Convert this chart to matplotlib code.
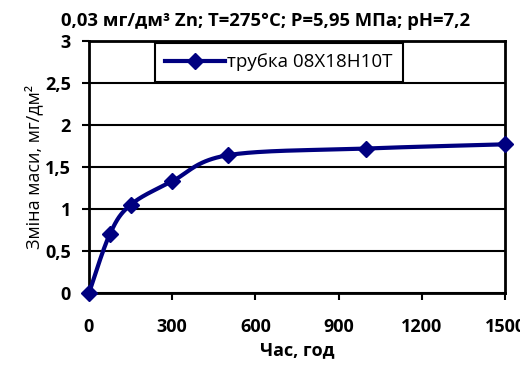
import numpy as np
import matplotlib
matplotlib.use("Agg")
import matplotlib.pyplot as plt

# ------------------------------------------------------------
# DATA
# ------------------------------------------------------------
hours = [0, 75, 150, 300, 500, 1000, 1500]
mass_change = [0.0, 0.70, 1.05, 1.33, 1.64, 1.72, 1.77]
series_label = "трубка 08Х18Н10Т"

x_ticks = [0, 300, 600, 900, 1200, 1500]
y_ticks = [0, 0.5, 1, 1.5, 2, 2.5, 3]
y_tick_labels = ["0", "0,5", "1", "1,5", "2", "2,5", "3"]

title = "0,03 мг/дм³ Zn; T=275°C; P=5,95 МПа; pH=7,2"
x_label = "Час, год"
y_label = "Зміна маси, мг/дм²"

plt.rcParams['font.family'] = ['Open Sans', 'Noto Sans', 'DejaVu Sans']


# ------------------------------------------------------------
# Excel-like smoothed line (cardinal bezier in screen space)
# ------------------------------------------------------------
def smooth_line(xs, ys, sx, sy, n=40):
    px = np.array(xs, float) * sx
    py = np.array(ys, float) * sy
    pts = np.column_stack([px, py])
    out = []
    for i in range(len(pts) - 1):
        p0 = pts[i - 1] if i > 0 else pts[i]
        p1 = pts[i]
        p2 = pts[i + 1]
        p3 = pts[i + 2] if i + 2 < len(pts) else pts[i + 1]
        c1 = p1 + (p2 - p0) / 6.0
        c2 = p2 - (p3 - p1) / 6.0
        t = np.linspace(0, 1, n)[:, None]
        seg = ((1 - t) ** 3) * p1 + 3 * ((1 - t) ** 2) * t * c1 \
            + 3 * (1 - t) * t ** 2 * c2 + t ** 3 * p2
        out.append(seg if i == 0 else seg[1:])
    out = np.vstack(out)
    return out[:, 0] / sx, out[:, 1] / sy


fig = plt.figure(figsize=(5.2, 3.65), dpi=100)
ax = fig.add_axes([89 / 520, 1 - 293 / 365, 416 / 520, 252 / 365])

# pixel scale per data unit (for the smoothing)
sx = 416 / 1500
sy = 252 / 3
cx, cy = smooth_line(hours, mass_change, sx, sy)

navy = '#000080'
ax.plot(cx, cy, color=navy, lw=3.0, solid_capstyle='round', zorder=3,
        clip_on=False)
ax.plot(hours, mass_change, 'D', color=navy, markersize=8.5, zorder=4,
        clip_on=False)
# legend proxy
ax.plot([], [], color=navy, lw=3.0, marker='D', markersize=8.5,
        label=series_label)

ax.set_xlim(0, 1500)
ax.set_ylim(0, 3)
ax.set_xticks(x_ticks)
ax.set_yticks(y_ticks)
ax.set_yticklabels(y_tick_labels)

for lab in ax.get_xticklabels() + ax.get_yticklabels():
    lab.set_fontweight('bold')
    lab.set_fontsize(13)

ax.tick_params(axis='both', direction='out', length=5, width=1.5,
               color='black')
ax.tick_params(axis='x', pad=13)
ax.tick_params(axis='y', pad=8)

ax.yaxis.grid(True, color='black', lw=1.5)
ax.set_axisbelow(True)
for sp in ax.spines.values():
    sp.set_linewidth(2)
    sp.set_color('black')

ax.set_title(title, fontsize=13.3, fontweight='bold', pad=11,
             x=(266 - 89) / 416)
ax.set_xlabel(x_label, fontsize=13, fontweight='bold', labelpad=4)
ax.set_ylabel(y_label, fontsize=13, labelpad=1)

leg = ax.legend(loc='upper left', bbox_to_anchor=(64 / 416, 1.0),
                fontsize=13.5, frameon=True, fancybox=False,
                handlelength=3.2, borderpad=0.55, handletextpad=0.1,
                borderaxespad=0.1)
leg.get_frame().set_edgecolor('black')
leg.get_frame().set_linewidth(1.5)
leg.get_frame().set_alpha(1)

plt.savefig("out.png", dpi=100)
plt.close()
